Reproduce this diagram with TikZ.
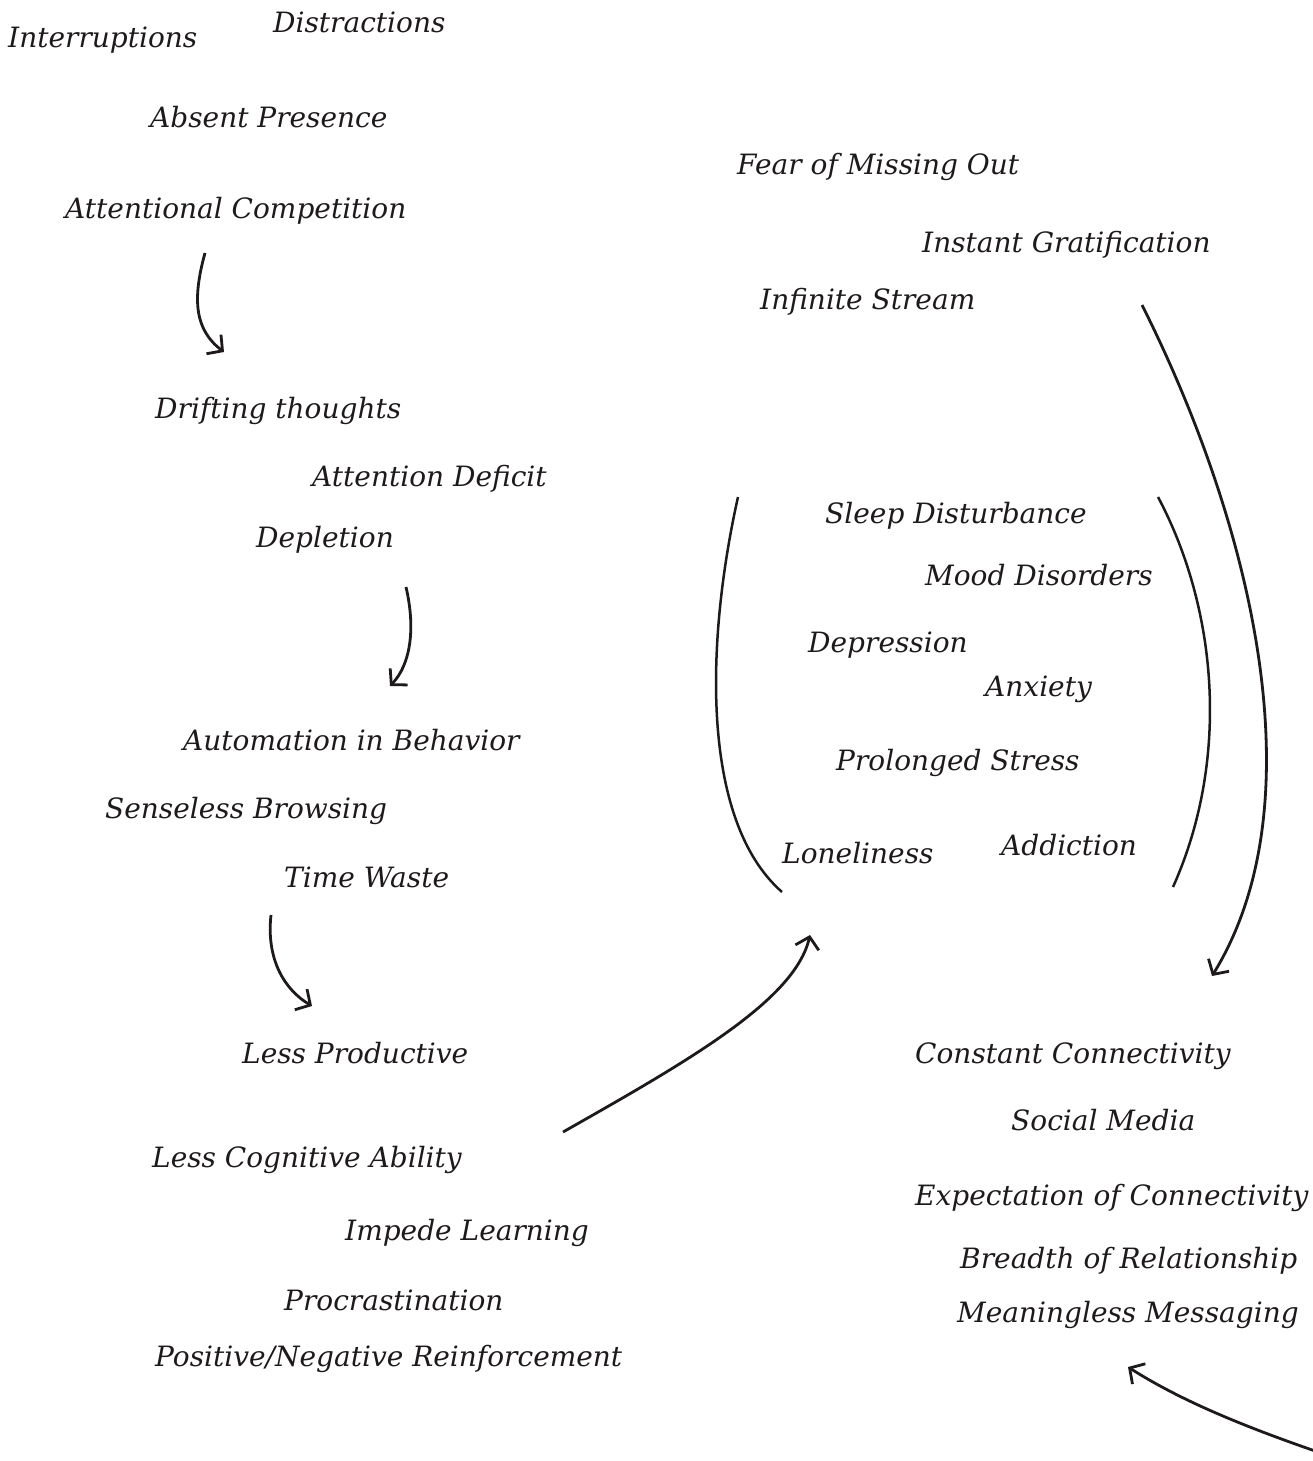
\documentclass[tikz,border=0pt]{standalone}
\usepackage{fontspec}
\setmainfont{DejaVu Serif}
\usepackage{tikz}
\usetikzlibrary{arrows.meta}
\definecolor{ink}{HTML}{1E1A1B}
\tikzset{
  lbl/.style={anchor=base west, inner sep=0pt, text=ink, font=\fontsize{28}{32}\selectfont\itshape},
  flow/.style={-{Straight Barb[length=11pt,width=24pt,line width=2.8pt]}, line width=2.8pt, draw=ink},
  brace/.style={line width=2.5pt, draw=ink}
}
\begin{document}
\begin{tikzpicture}[x=1pt,y=-1pt]
  \useasboundingbox (0,0) rectangle (1312,1461);
  % attention column
  \node[lbl] (intr) at (8,48) {Interruptions};
  \node[lbl] (distr) at (273,33) {Distractions};
  \node[lbl] (absent) at (150,128) {Absent Presence};
  \node[lbl] (compet) at (65,218) {Attentional Competition};
  \node[lbl] (drift) at (155,418) {Drifting thoughts};
  \node[lbl] (deficit) at (312,486) {Attention Deficit};
  \node[lbl] (deplet) at (256,547) {Depletion};
  \node[lbl] (autom) at (183,750) {Automation in Behavior};
  \node[lbl] (senseless) at (105,818) {Senseless Browsing};
  \node[lbl] (waste) at (284,887) {Time Waste};
  \node[lbl] (lessprod) at (242,1063) {Less Productive};
  \node[lbl] (lesscog) at (152,1167) {Less Cognitive Ability};
  \node[lbl] (impede) at (345,1240) {Impede Learning};
  \node[lbl] (procr) at (284,1310) {Procrastination};
  \node[lbl] (reinf) at (155,1366) {Positive/Negative Reinforcement};
  % upper right
  \node[lbl] (fomo) at (737,174) {Fear of Missing Out};
  \node[lbl] (instant) at (922,252) {Instant Gratification};
  \node[lbl] (stream) at (760,309) {Infinite Stream};
  % health effects
  \node[lbl] (sleep) at (825,523) {Sleep Disturbance};
  \node[lbl] (mood) at (925,585) {Mood Disorders};
  \node[lbl] (depr) at (808,652) {Depression};
  \node[lbl] (anx) at (985,696) {Anxiety};
  \node[lbl] (stress) at (836,770) {Prolonged Stress};
  \node[lbl] (lonely) at (782,863) {Loneliness};
  \node[lbl] (addict) at (1001,855) {Addiction};
  % connectivity
  \node[lbl] (constant) at (915,1063) {Constant Connectivity};
  \node[lbl] (social) at (1011,1130) {Social Media};
  \node[lbl] (expect) at (915,1205) {Expectation of Connectivity};
  \node[lbl] (breadth) at (960,1268) {Breadth of Relationship};
  \node[lbl] (meaning) at (957,1322) {Meaningless Messaging};
  % arrow ends
  \coordinate (a1s) at (205,253);  \coordinate (a1e) at (224,352);
  \coordinate (a2s) at (406,587);  \coordinate (a2e) at (390,686);
  \coordinate (a3s) at (271,915);  \coordinate (a3e) at (312,1006);
  \coordinate (a4s) at (563,1132); \coordinate (a4e) at (810,935);
  \coordinate (a5s) at (1142,305); \coordinate (a5e) at (1212,976);
  \coordinate (a6s) at (1318,1452); \coordinate (a6e) at (1128,1367);
  \coordinate (bls) at (738,497);  \coordinate (ble) at (782,892);
  \coordinate (brs) at (1158,497); \coordinate (bre) at (1173,887);
  \draw[flow] (a1s) .. controls (192,300) and (195,330) .. (a1e);
  \draw[flow] (a2s) .. controls (416,630) and (410,665) .. (a2e);
  \draw[flow] (a3s) .. controls (266,960) and (285,990) .. (a3e);
  \draw[flow] (a4s) .. controls (690,1060) and (795,1000) .. (a4e);
  \draw[flow] (a5s) .. controls (1250,520) and (1320,800) .. (a5e);
  \draw[flow] (a6s) .. controls (1240,1425) and (1180,1400) .. (a6e);
  \draw[brace] (bls) .. controls (706,640) and (700,820) .. (ble);
  \draw[brace] (brs) .. controls (1218,610) and (1230,760) .. (bre);
\end{tikzpicture}
\end{document}
